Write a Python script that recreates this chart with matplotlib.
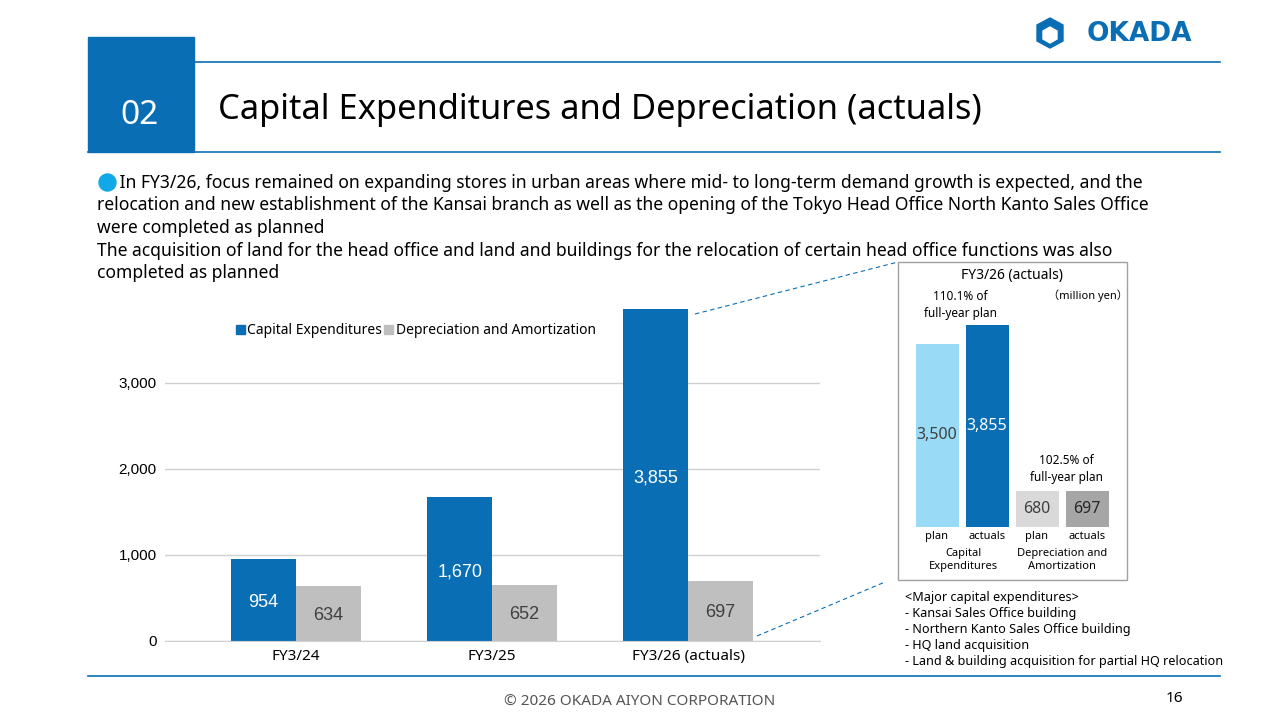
import matplotlib
matplotlib.use("Agg")
import matplotlib.pyplot as plt
from matplotlib.patches import Rectangle, Polygon

categories = ["FY3/24", "FY3/25", "FY3/26 (actuals)"]
capex = [954, 1670, 3855]
depr = [634, 652, 697]
yticks = [0, 1000, 2000, 3000]
inset_vals = [3500, 3855, 680, 697]
inset_labels = ["plan", "actuals", "plan", "actuals"]

BLUE = "#0a6eb4"
GRAY = "#bfbfbf"
W, H = 1280, 720
fig = plt.figure(figsize=(12.8, 7.2), dpi=100)
plt.rcParams['font.family'] = ['Noto Sans', 'Noto Sans CJK JP', 'DejaVu Sans']

def px(x0, y0, x1, y1):
    return [x0 / W, 1 - y1 / H, (x1 - x0) / W, (y1 - y0) / H]

ov = fig.add_axes([0, 0, 1, 1])
ov.set_xlim(0, W); ov.set_ylim(H, 0); ov.axis("off")
ov.add_patch(Rectangle((88, 37), 106, 115, color=BLUE))
ov.text(140, 116, "02", color="white", fontsize=24, ha="center", va="center")
ov.plot([194, 1220], [62, 62], color=BLUE, lw=1.2)
ov.plot([88, 1220], [152, 152], color=BLUE, lw=1.2)
ov.plot([88, 1220], [676, 676], color=BLUE, lw=1.2)
ov.text(218, 110, "Capital Expenditures and Depreciation (actuals)", fontsize=24.8, va="center")
ov.text(1192, 34, "OKADA", color=BLUE, fontsize=19, fontweight="bold", ha="right", va="center",
        family="DejaVu Sans")
ov.add_patch(Polygon([[1050, 18], [1063, 25], [1063, 41], [1050, 48], [1037, 41], [1037, 25]], color=BLUE))
ov.add_patch(Polygon([[1050, 27], [1057, 31], [1057, 39], [1050, 43], [1043, 39], [1043, 31]], color="white"))
ov.scatter([107], [182], s=150, color="#12a7e6")
body = ["     In FY3/26, focus remained on expanding stores in urban areas where mid- to long-term demand growth is expected, and the",
        "relocation and new establishment of the Kansai branch as well as the opening of the Tokyo Head Office North Kanto Sales Office",
        "were completed as planned",
        "The acquisition of land for the head office and land and buildings for the relocation of certain head office functions was also",
        "completed as planned"]
for i, t in enumerate(body):
    ov.text(97, 183 + i * 22.5, t, fontsize=12.6, va="center")
ov.text(640, 702, "© 2026 OKADA AIYON CORPORATION", fontsize=11, color="#555555", ha="center", va="center")
ov.text(1183, 698, "16", fontsize=11, ha="right", va="center")
ov.plot([695, 898], [314, 262], color=BLUE, lw=0.8, ls=(0, (4, 3)))
ov.plot([757, 885], [636, 582], color=BLUE, lw=0.8, ls=(0, (4, 3)))
# legend
ov.add_patch(Rectangle((236, 325), 9, 9, color=BLUE))
ov.text(247, 330, "Capital Expenditures", fontsize=10, va="center")
ov.add_patch(Rectangle((384, 325), 9, 9, color=GRAY))
ov.text(396, 330, "Depreciation and Amortization", fontsize=10, va="center")
# inset frame
ov.add_patch(Rectangle((898, 262), 229, 318, fill=False, ec="#a0a0a0", lw=1))
ov.text(1012, 275, "FY3/26 (actuals)", fontsize=10, ha="center", va="center")
ov.text(1088, 296, "（million yen）", fontsize=8, ha="center", va="center")
ov.text(960, 305, "110.1% of\nfull-year plan", fontsize=8.5, ha="center", va="center", linespacing=1.3)
ov.text(1066, 469, "102.5% of\nfull-year plan", fontsize=8.5, ha="center", va="center", linespacing=1.3)
ov.text(963, 560, "Capital\nExpenditures", fontsize=8, ha="center", va="center", linespacing=1.3)
ov.text(1062, 560, "Depreciation and\nAmortization", fontsize=8, ha="center", va="center", linespacing=1.3)
notes = ["<Major capital expenditures>", "- Kansai Sales Office building", "- Northern Kanto Sales Office building",
         "- HQ land acquisition", "- Land & building acquisition for partial HQ relocation"]
for i, t in enumerate(notes):
    ov.text(905, 598 + i * 16, t, fontsize=9.1, va="center")

# main chart
ax = fig.add_axes(px(165, 300, 820, 641))
x = range(len(categories))
bw = 0.33
ax.bar([i - bw / 2 for i in x], capex, bw, color=BLUE)
ax.bar([i + bw / 2 for i in x], depr, bw, color=GRAY)
for i in x:
    ax.text(i - bw / 2, capex[i] / 2 - 30, f"{capex[i]:,}", color="white", fontsize=13, ha="center", va="center",
            family="Liberation Sans")
    ax.text(i + bw / 2, depr[i] / 2 - 20, f"{depr[i]:,}", color="#404040", fontsize=13, ha="center", va="center",
            family="Liberation Sans")
ax.set_xlim(-0.668, 2.673)
ax.set_ylim(0, 3965)
ax.set_yticks(yticks)
ax.set_yticklabels([f"{v:,}" for v in yticks], family="Liberation Sans", fontsize=11)
ax.set_xticks(list(x))
ax.set_xticklabels(categories, fontsize=11)
ax.grid(axis="y", color="#d0d0d0", lw=1)
ax.set_axisbelow(True)
for s in ax.spines.values():
    s.set_visible(False)
ax.spines["bottom"].set_visible(True); ax.spines["bottom"].set_color("#d0d0d0")
ax.tick_params(length=0, pad=6)
ax.patch.set_alpha(0)

# inset chart
ia = fig.add_axes(px(912, 300, 1112, 527))
ix = [0, 1, 2, 3]
icol = ["#99dbf7", BLUE, "#d9d9d9", "#a6a6a6"]
ia.bar(ix, inset_vals, 0.86, color=icol)
ia.set_xlim(-0.5, 3.5); ia.set_ylim(0, 4340)
tcol = ["#404040", "white", "#404040", "#262626"]
for i in ix:
    ia.text(i, inset_vals[i] / 2, f"{inset_vals[i]:,}", color=tcol[i], fontsize=11.5,
            ha="center", va="center")
ia.set_xticks(ix); ia.set_xticklabels(inset_labels, fontsize=8)
ia.set_yticks([])
for s in ia.spines.values():
    s.set_visible(False)
ia.tick_params(length=0, pad=3)
ia.patch.set_alpha(0)

fig.savefig("out.png", dpi=100)
